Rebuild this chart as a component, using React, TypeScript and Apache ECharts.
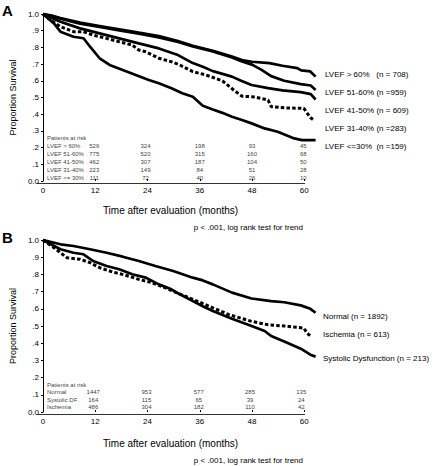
import React, { useEffect, useRef } from "react";
import * as echarts from "echarts";

const FONT = "'Liberation Sans', Arial, Helvetica, sans-serif";

// ---------- Panel A: survival by LVEF (months, proportion surviving) ----------
const lvefGt60: [number, number][] = [
  [0, 1], [2, 0.99], [4, 0.976], [8.5, 0.948], [13, 0.928], [17.5, 0.908], [22, 0.888],
  [26.6, 0.868], [31, 0.838], [34.4, 0.81], [39, 0.78], [43.4, 0.745], [46, 0.722],
  [48, 0.714], [52, 0.706], [55, 0.69], [58.4, 0.676], [59.3, 0.662], [61.4, 0.656], [62.6, 0.625],
];
const lvef51to60: [number, number][] = [
  [0, 1], [2, 0.988], [4, 0.972], [8.5, 0.942], [13, 0.922], [17.5, 0.902], [22, 0.882],
  [26.6, 0.86], [31, 0.832], [34.4, 0.806], [39, 0.776], [43.4, 0.74], [45.7, 0.716],
  [48, 0.697], [50.2, 0.665], [52.4, 0.628], [55.4, 0.6], [59.2, 0.58], [61.5, 0.572], [62.6, 0.545],
];
const lvef41to50: [number, number][] = [
  [0, 1], [4, 0.954], [8.5, 0.914], [13, 0.884], [17.5, 0.854], [22, 0.824], [26.6, 0.794],
  [31, 0.754], [34.4, 0.706], [36.7, 0.684], [39, 0.658], [43.4, 0.625], [45.5, 0.6],
  [47.9, 0.575], [51.7, 0.556], [55, 0.543], [59.2, 0.532], [61.5, 0.52], [62.6, 0.488],
];
const lvef31to40: [number, number][] = [
  [0, 1], [1.8, 0.964], [4, 0.924], [7, 0.894], [9.3, 0.894], [11.5, 0.874], [14.6, 0.854],
  [17.5, 0.834], [20.5, 0.814], [22, 0.784], [23.6, 0.774], [26.6, 0.735], [29.5, 0.714],
  [31, 0.7], [34.4, 0.655], [37.4, 0.635], [41.2, 0.6], [44, 0.54], [45.7, 0.508],
  [48.7, 0.503], [51.7, 0.485], [52.4, 0.445], [56.2, 0.437], [59.9, 0.435], [61.4, 0.38], [62, 0.368],
];
const lvefLe30: [number, number][] = [
  [0, 1], [2.5, 0.944], [4, 0.894], [7, 0.864], [9.3, 0.855], [10.8, 0.804], [13, 0.735],
  [15.3, 0.695], [18.3, 0.665], [21.3, 0.635], [24.3, 0.605], [26.6, 0.585], [29.5, 0.555],
  [32, 0.525], [34.4, 0.505], [36.7, 0.45], [39, 0.428], [41.2, 0.408], [43.4, 0.385],
  [45.7, 0.365], [47.9, 0.345], [50.9, 0.315], [53.9, 0.295], [57.7, 0.255], [59.5, 0.245], [62.6, 0.245],
];

const seriesNamesA = [
  "LVEF > 60%   (n = 708)",
  "LVEF 51-60% (n =959)",
  "LVEF 41-50% (n = 609)",
  "LVEF 31-40% (n =283)",
  "LVEF <=30%  (n =159)",
];

const riskLabelsA = ["LVEF > 60%", "LVEF 51-60%", "LVEF 41-50%", "LVEF 31-40%", "LVEF <= 30%"];
const riskCountsA = [
  [526, 324, 198, 93, 45],
  [775, 520, 315, 160, 68],
  [462, 307, 187, 104, 50],
  [223, 149, 84, 51, 28],
  [111, 72, 40, 26, 10],
];

// ---------- Panel B: survival by SPECT result ----------
const normal: [number, number][] = [
  [0, 1], [4, 0.975], [7, 0.965], [10.8, 0.946], [14.6, 0.926], [18.3, 0.903], [22, 0.878],
  [25.8, 0.849], [29.9, 0.82], [34.4, 0.781], [36.7, 0.765], [39, 0.742], [43.4, 0.694],
  [47.9, 0.66], [52.4, 0.645], [55.4, 0.638], [59.2, 0.62], [61.4, 0.6], [62.6, 0.577],
];
const ischemia: [number, number][] = [
  [0, 1], [2.5, 0.955], [5.5, 0.897], [8.5, 0.888], [10.8, 0.868], [13, 0.839], [16, 0.814],
  [19, 0.795], [22, 0.771], [25, 0.752], [28, 0.723], [31, 0.69], [34.4, 0.655], [39, 0.606],
  [42.7, 0.566], [47.9, 0.527], [51.7, 0.507], [55.4, 0.5], [59.9, 0.488], [60.7, 0.457], [61.4, 0.443],
];
const systolicDf: [number, number][] = [
  [0, 1], [1.8, 0.975], [4, 0.946], [7, 0.926], [9.3, 0.917], [11.5, 0.878], [14.6, 0.849],
  [17.5, 0.83], [20.5, 0.801], [23.6, 0.781], [26.6, 0.742], [29.5, 0.713], [31, 0.69],
  [34.4, 0.645], [36.7, 0.615], [39, 0.587], [43.4, 0.542], [47.9, 0.5], [50.9, 0.471],
  [52.4, 0.442], [55.4, 0.41], [59.2, 0.368], [61.4, 0.333], [62.6, 0.322],
];

const seriesNamesB = ["Normal (n = 1892)", "Ischemia (n = 613)", "Systolic Dysfunction (n = 213)"];

const riskLabelsB = ["Normal", "Systolic DF", "Ischemia"];
const riskCountsB = [
  [1447, 953, 577, 285, 135],
  [164, 115, 65, 39, 24],
  [486, 304, 182, 110, 42],
];

const monthTicks = [0, 12, 24, 36, 48, 60];
const riskMonths = [12, 24, 36, 48, 60];
const pText = "p < .001, log rank test for trend";
const xTitle = "Time after evaluation (months)";
const yTitle = "Proportion Survival";

// ---------- layout ----------
const AXIS_MAX = 60; // last labelled month
const DATA_MAX = 62.6; // follow-up continues slightly past the last tick
const PLOT_W = 267; // pixel width from 0 to 60 months
const GRID_A = { left: 37, top: 14, width: (PLOT_W * DATA_MAX) / AXIS_MAX, height: 167 };
const GRID_B = { left: 37, top: 240, width: (PLOT_W * DATA_MAX) / AXIS_MAX, height: 172 };
const COL_OFFSET_A = [-1, -2, 0, 0, -1];
const COL_OFFSET_B = [-2, -1, -1, -2, -3];

function App() {
  const ref = useRef<HTMLDivElement>(null);

  useEffect(() => {
    if (!ref.current) return;
    const chart = echarts.init(ref.current, null, { renderer: "svg" });

    const xAxis = (gridIndex: number) => ({
      type: "value",
      gridIndex,
      min: 0,
      max: DATA_MAX,
      interval: 12,
      offset: 2,
      axisLine: { show: false },
      axisTick: {
        show: true,
        inside: true,
        length: 2,
        customValues: monthTicks,
        lineStyle: { color: "#000" },
      },
      axisLabel: {
        fontSize: 8,
        color: "#000",
        margin: 3,
        fontFamily: FONT,
        customValues: monthTicks,
      },
      splitLine: { show: false },
    });

    const yAxis = (gridIndex: number) => ({
      type: "value",
      gridIndex,
      min: 0,
      max: 1,
      interval: 0.1,
      axisLine: { show: true, lineStyle: { color: "#000", width: 1 } },
      axisTick: { show: true, length: 2, lineStyle: { color: "#000" } },
      axisLabel: {
        fontSize: 8,
        color: "#000",
        margin: 4,
        fontFamily: FONT,
        formatter: (v: number) =>
          v >= 0.999 ? "1.0" : v <= 0.001 ? "0.0" : "." + Math.round(v * 10),
      },
      splitLine: { show: false },
      name: yTitle,
      nameLocation: "middle",
      nameGap: 20,
      nameTextStyle: { fontSize: 9, color: "#000", fontFamily: FONT },
    });

    const curve = (idx: number, name: string, data: [number, number][], dashed: boolean) => ({
      type: "line",
      name,
      xAxisIndex: idx,
      yAxisIndex: idx,
      data,
      symbol: "none",
      showSymbol: false,
      clip: false,
      silent: true,
      lineStyle: {
        color: "#000",
        width: dashed ? 3 : 2.7,
        type: dashed ? [3.5, 2.2] : "solid",
        cap: "butt",
      },
    });

    const riskTable = (
      idx: number,
      labels: string[],
      counts: number[][],
      headerY: number,
      firstRowY: number,
      rowStep: number,
      offsets: number[]
    ) => {
      const items: any[] = [];
      items.push({
        value: [0, headerY],
        label: { formatter: "Patients at risk", align: "left", offset: [4, 0] },
      });
      labels.forEach((lab, r) => {
        const y = firstRowY - r * rowStep;
        items.push({ value: [0, y], label: { formatter: lab, align: "left", offset: [4, 0] } });
        counts[r].forEach((c, k) => {
          items.push({
            value: [riskMonths[k], y],
            label: { formatter: String(c), align: "center", offset: [offsets[k], 0] },
          });
        });
      });
      return {
        type: "scatter",
        xAxisIndex: idx,
        yAxisIndex: idx,
        symbolSize: 0,
        silent: true,
        data: items,
        label: {
          show: true,
          position: "inside",
          fontSize: 6,
          color: "#000",
          fontFamily: FONT,
          verticalAlign: "middle",
        },
      };
    };

    const txt = (text: string, x: number, y: number, extra: any = {}) => ({
      type: "text",
      x,
      y,
      silent: true,
      style: {
        text,
        fill: "#000",
        fontSize: 8,
        fontFamily: FONT,
        verticalAlign: "middle",
        align: "left",
        ...extra,
      },
    });

    const axisLine = (g: { left: number; top: number; height: number }) => ({
      type: "line",
      silent: true,
      shape: {
        x1: g.left,
        y1: g.top + g.height + 2.5,
        x2: g.left + PLOT_W + 1,
        y2: g.top + g.height + 2.5,
      },
      style: { stroke: "#333", lineWidth: 1 },
    });

    const labelYA = [74, 92, 110, 128, 146];
    const labelYB = [316, 334, 358];
    const xMid = GRID_A.left + PLOT_W / 2;

    chart.setOption({
      animation: false,
      textStyle: { fontFamily: FONT },
      grid: [GRID_A, GRID_B],
      xAxis: [xAxis(0), xAxis(1)],
      yAxis: [yAxis(0), yAxis(1)],
      series: [
        curve(0, seriesNamesA[0], lvefGt60, false),
        curve(0, seriesNamesA[1], lvef51to60, false),
        curve(0, seriesNamesA[2], lvef41to50, false),
        curve(0, seriesNamesA[3], lvef31to40, true),
        curve(0, seriesNamesA[4], lvefLe30, false),
        curve(1, seriesNamesB[0], normal, false),
        curve(1, seriesNamesB[1], ischemia, true),
        curve(1, seriesNamesB[2], systolicDf, false),
        riskTable(0, riskLabelsA, riskCountsA, 0.256, 0.21, 0.0473, COL_OFFSET_A),
        riskTable(1, riskLabelsB, riskCountsB, 0.158, 0.114, 0.042, COL_OFFSET_B),
      ],
      graphic: [
        axisLine(GRID_A),
        axisLine(GRID_B),
        txt("A", 2, 10, { fontSize: 15, fontWeight: "bold" }),
        txt("B", 2, 237, { fontSize: 15, fontWeight: "bold" }),
        ...seriesNamesA.map((s, i) => txt(s, 325, labelYA[i])),
        ...seriesNamesB.map((s, i) => txt(s, 323, labelYB[i])),
        txt(xTitle, xMid, 210, { align: "center", fontSize: 10 }),
        txt(xTitle, xMid, 443.5, { align: "center", fontSize: 10 }),
        txt(pText, 303, 227, { align: "right", fontSize: 8 }),
        txt(pText, 303, 460, { align: "right", fontSize: 8 }),
      ],
    });

    return () => chart.dispose();
  }, []);

  return (
    <div
      ref={ref}
      style={{ position: "fixed", left: 0, top: 0, width: 434, height: 466, background: "#fff" }}
    />
  );
}

export default App;
